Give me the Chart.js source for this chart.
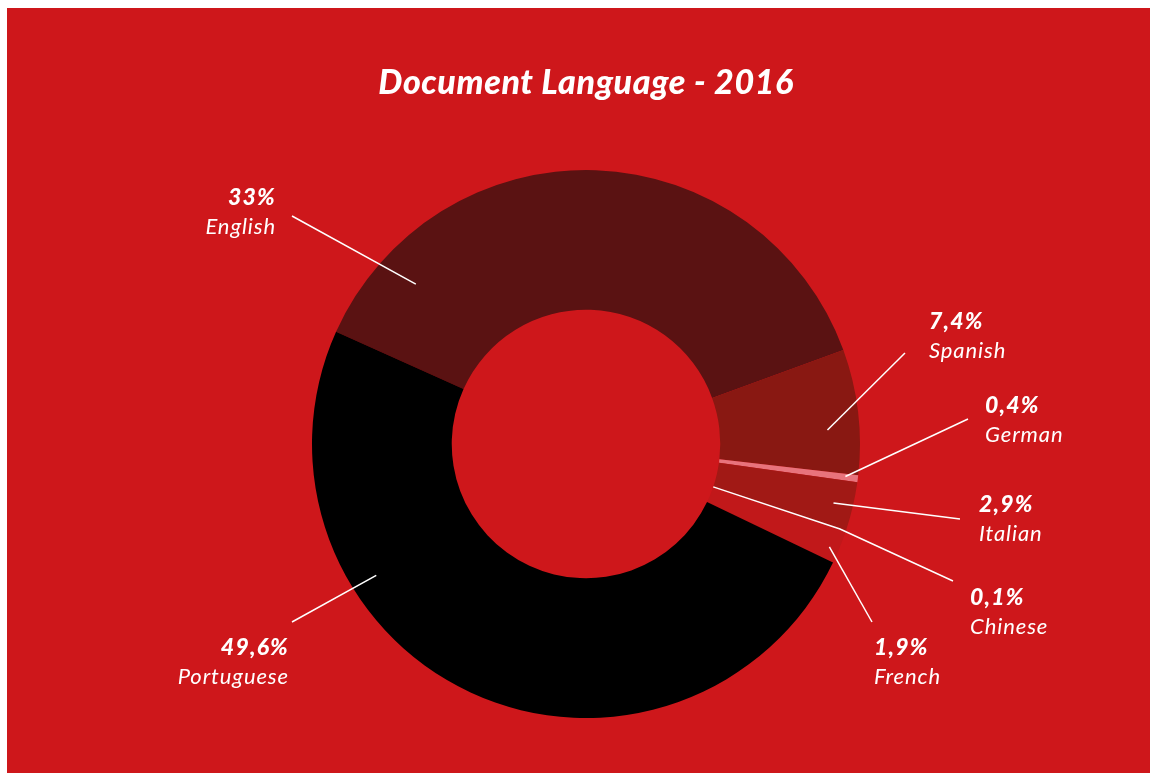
<!DOCTYPE html>
<html>
<head>
<meta charset="utf-8">
<script src="https://cdn.jsdelivr.net/npm/chart.js@4/dist/chart.umd.min.js"></script>
<style>
    body { margin: 0; background: #fff; }
    canvas { display: block; }
</style>
</head>
<body>
<canvas id="chart" width="1150" height="773"></canvas>
<script>
const languages = ["English", "Spanish", "German", "Italian", "Chinese", "French", "Portuguese"];
// size of each slice as drawn in the picture (English arc is larger than its printed label)
const sliceValues = [37.7, 7.4, 0.4, 2.9, 0.1, 1.9, 49.6];
// percentages printed next to each slice
const printedValues = [33, 7.4, 0.4, 2.9, 0.1, 1.9, 49.6];
const sliceColors = ["#5a1212", "#891812", "#e8737c", "#a11915", "#b0181a", "#c1181a", "#000000"];

const bgRed = "#ce171b";

// label placement: text anchor, alignment, leader line outer end (+ optional elbow),
// and where the line touches the slice (t along the arc, s across the ring)
const labelLayout = {
    English:    { x: 276, y: 205, align: "right", end: [292, 216], t: 0.14, s: 0.71 },
    Spanish:    { x: 929, y: 329, align: "left",  end: [905, 353], t: 0.63, s: 0.77 },
    German:     { x: 985, y: 413, align: "left",  end: [968, 419], t: 0.4,  s: 0.91 },
    Italian:    { x: 979, y: 512, align: "left",  end: [960, 519], t: 0.52, s: 0.86 },
    Chinese:    { x: 970, y: 605, align: "left",  end: [953, 581], elbow: [840, 529], t: 0.5, s: 0 },
    French:     { x: 874, y: 655, align: "left",  end: [872, 622], t: 0.6,  s: 0.93 },
    Portuguese: { x: 289, y: 655, align: "right", end: [292, 622], t: 0.685, s: 0.81 }
};

const fmt = v => String(v).replace(".", ",") + "%";

const backdrop = {
    id: "backdrop",
    beforeDraw(chart) {
        const ctx = chart.ctx;
        ctx.save();
        ctx.fillStyle = "#ffffff";
        ctx.fillRect(0, 0, chart.width, chart.height);
        ctx.fillStyle = bgRed;
        ctx.fillRect(7, 8, chart.width - 7, chart.height - 8);
        ctx.restore();
    }
};

const annotations = {
    id: "annotations",
    afterDraw(chart) {
        const ctx = chart.ctx;
        const arcs = chart.getDatasetMeta(0).data;
        ctx.save();
        ctx.fillStyle = "#ffffff";
        ctx.textBaseline = "alphabetic";
        ctx.textAlign = "center";
        ctx.letterSpacing = "0.6px";
        ctx.font = "italic 900 34px Lato, 'Open Sans', sans-serif";
        ctx.fillText("Document Language - 2016", 586, 94);

        ctx.strokeStyle = "#ffffff";
        ctx.lineWidth = 1.5;
        languages.forEach((name, i) => {
            const lay = labelLayout[name];
            const arc = arcs[i].getProps(["x", "y", "startAngle", "endAngle", "innerRadius", "outerRadius"], true);
            const a = arc.startAngle + lay.t * (arc.endAngle - arc.startAngle);
            const r = arc.innerRadius + lay.s * (arc.outerRadius - arc.innerRadius);
            const px = arc.x + Math.cos(a) * r;
            const py = arc.y + Math.sin(a) * r;

            ctx.beginPath();
            ctx.moveTo(px, py);
            if (lay.elbow) ctx.lineTo(lay.elbow[0], lay.elbow[1]);
            ctx.lineTo(lay.end[0], lay.end[1]);
            ctx.stroke();

            ctx.textAlign = lay.align;
            ctx.letterSpacing = "1.2px";
            ctx.font = "italic 900 23px Lato, 'Open Sans', sans-serif";
            ctx.fillText(fmt(printedValues[i]), lay.x, lay.y);
            ctx.letterSpacing = "0.9px";
            ctx.font = "italic 400 22px Lato, 'Open Sans', sans-serif";
            ctx.fillText(name, lay.x, lay.y + 29);
        });
        ctx.restore();
    }
};

new Chart(document.getElementById("chart"), {
    type: "doughnut",
    data: {
        labels: languages,
        datasets: [{
            data: sliceValues,
            backgroundColor: sliceColors,
            borderWidth: 0
        }]
    },
    options: {
        responsive: false,
        animation: false,
        devicePixelRatio: 1,
        rotation: -65.8,
        cutout: "49%",
        layout: {
            padding: { top: 170, left: 312, right: 290, bottom: 55 }
        },
        plugins: {
            legend: { display: false },
            tooltip: { enabled: false }
        }
    },
    plugins: [backdrop, annotations]
});
</script>
</body>
</html>
